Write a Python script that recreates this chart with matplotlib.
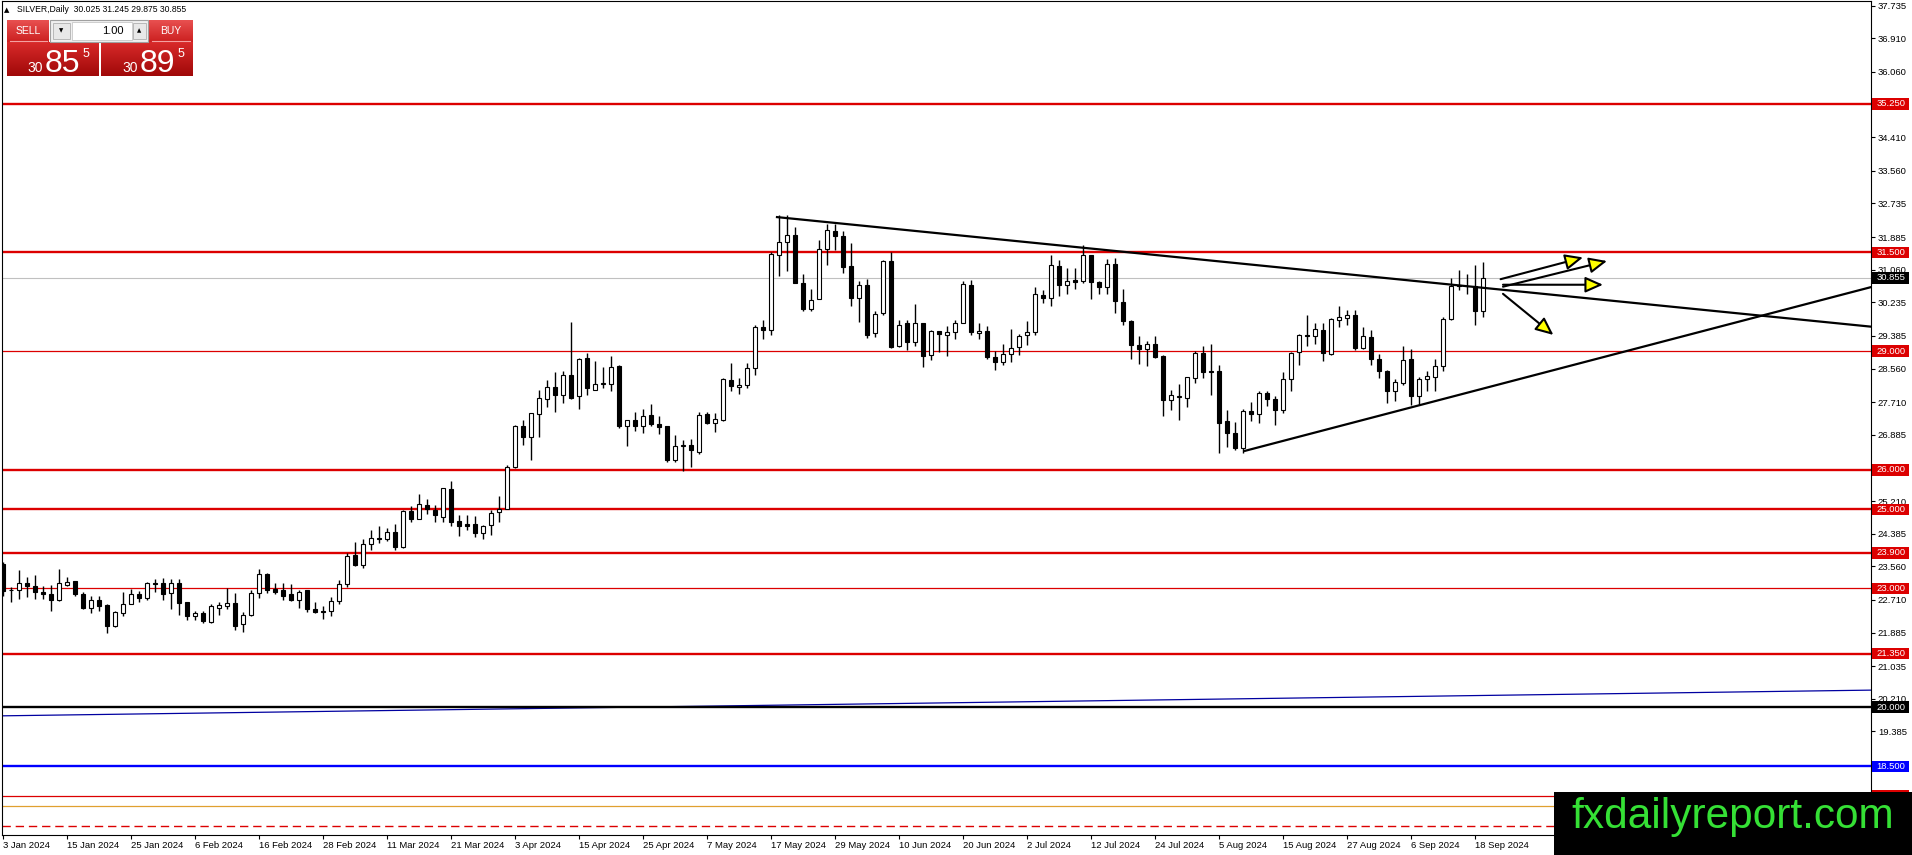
import numpy as np
import matplotlib
matplotlib.use('Agg')
import matplotlib.pyplot as plt
from matplotlib.patches import Rectangle, FancyArrowPatch
from matplotlib.transforms import blended_transform_factory
from matplotlib.colors import LinearSegmentedColormap

plt.rcParams['font.family'] = ['Liberation Sans', 'DejaVu Sans']

# daily OHLC, 3 Jan 2024 .. 19 Sep 2024
opens = [23.61, 22.96, 22.96, 23.13, 23.07, 22.92, 22.85, 22.71, 23.10, 23.18,
         22.87, 22.51, 22.70, 22.57, 22.06, 22.37, 22.62, 22.87, 22.76, 23.14,
         23.13, 22.89, 23.14, 22.66, 22.30, 22.38, 22.15, 22.51, 22.55, 22.64,
         22.09, 22.33, 22.89, 23.37, 22.99, 22.95, 22.85, 22.70, 22.95, 22.49,
         22.43, 22.43, 22.68, 23.12, 23.85, 23.60, 24.12, 24.27, 24.25, 24.43,
         24.06, 24.97, 24.75, 25.11, 24.99, 24.82, 25.52, 24.71, 24.63, 24.63,
         24.40, 24.60, 24.94, 25.02, 26.07, 27.12, 26.84, 27.41, 27.79, 28.09,
         27.88, 28.40, 27.87, 28.82, 28.02, 28.17, 28.17, 28.63, 27.11, 27.25,
         27.10, 27.38, 27.16, 27.10, 26.25, 26.59, 26.62, 26.46, 27.41, 27.18,
         27.27, 28.28, 28.10, 28.14, 28.58, 29.62, 29.53, 31.44, 31.76, 31.95,
         30.72, 30.07, 30.32, 31.58, 32.05, 31.92, 31.15, 30.35, 30.68, 29.46,
         29.97, 31.27, 29.14, 29.70, 29.22, 29.70, 28.90, 29.52, 29.40, 29.49,
         29.71, 30.68, 29.47, 29.52, 28.85, 28.72, 28.93, 29.11, 29.41, 29.48,
         30.43, 30.34, 31.16, 30.68, 30.79, 30.77, 31.42, 30.75, 30.62, 31.21,
         30.25, 29.77, 29.16, 29.06, 29.19, 28.87, 27.77, 27.83, 27.82, 28.32,
         28.95, 28.50, 28.51, 27.23, 26.93, 26.55, 27.49, 27.41, 27.93, 27.79,
         27.51, 28.30, 28.98, 29.42, 29.38, 29.54, 28.93, 29.80, 29.84, 29.92,
         29.08, 29.36, 28.80, 28.50, 27.99, 28.20, 28.79, 27.86, 28.30, 28.35,
         28.62, 29.81, 30.68, 30.66, 30.66, 30.025]
highs = [23.67, 23.04, 23.46, 23.29, 23.33, 23.06, 23.10, 23.50, 23.29, 23.20,
         22.91, 22.82, 22.81, 22.61, 22.43, 22.92, 22.99, 22.93, 23.16, 23.24,
         23.27, 23.23, 23.23, 22.67, 22.44, 22.43, 22.60, 22.65, 23.02, 22.89,
         22.40, 22.97, 23.48, 23.40, 23.14, 23.14, 23.12, 22.97, 22.95, 22.65,
         22.55, 22.78, 23.21, 23.90, 24.17, 24.25, 24.47, 24.58, 24.53, 24.63,
         24.99, 25.09, 25.39, 25.26, 25.11, 25.54, 25.73, 24.86, 24.86, 24.84,
         24.61, 24.99, 25.33, 26.13, 27.14, 27.26, 27.43, 28.02, 28.28, 28.47,
         28.49, 29.73, 28.84, 28.95, 28.76, 28.60, 28.88, 28.65, 27.26, 27.45,
         27.53, 27.67, 27.37, 27.11, 26.89, 26.76, 26.78, 27.45, 27.46, 27.44,
         28.31, 28.70, 28.32, 28.69, 29.67, 29.78, 31.52, 32.45, 32.45, 32.14,
         30.94, 30.56, 31.82, 32.22, 32.22, 32.03, 31.74, 30.77, 30.83, 30.01,
         31.30, 31.50, 29.78, 29.80, 30.20, 29.71, 29.54, 29.52, 29.63, 29.78,
         30.77, 30.81, 29.70, 29.63, 29.00, 29.19, 29.57, 29.44, 29.77, 30.62,
         30.54, 31.44, 31.31, 31.10, 31.10, 31.69, 31.42, 30.77, 31.33, 31.36,
         30.56, 29.78, 29.39, 29.25, 29.39, 28.91, 28.01, 28.16, 28.35, 29.00,
         29.12, 29.17, 28.66, 27.52, 27.20, 27.54, 27.71, 27.99, 28.00, 27.86,
         28.47, 28.97, 29.44, 29.92, 29.70, 29.71, 29.84, 30.15, 30.05, 30.05,
         29.61, 29.54, 28.94, 28.52, 28.30, 29.12, 29.06, 28.34, 28.49, 28.79,
         29.86, 30.85, 31.05, 30.94, 31.19, 31.245]
lows = [22.81, 22.65, 22.74, 22.78, 22.74, 22.74, 22.43, 22.68, 23.06, 22.81,
        22.47, 22.38, 22.43, 21.88, 22.03, 22.30, 22.60, 22.65, 22.72, 22.91,
        22.72, 22.47, 22.34, 22.20, 22.20, 22.12, 22.12, 22.33, 22.49, 21.95,
        21.90, 22.30, 22.76, 22.89, 22.87, 22.71, 22.68, 22.51, 22.40, 22.38,
        22.22, 22.30, 22.62, 23.05, 23.56, 23.51, 23.98, 24.16, 24.19, 23.98,
        24.02, 24.67, 24.75, 24.89, 24.67, 24.69, 24.58, 24.33, 24.48, 24.31,
        24.25, 24.36, 24.69, 25.01, 26.04, 26.63, 26.24, 26.82, 27.58, 27.47,
        27.70, 27.79, 27.54, 27.89, 28.02, 28.08, 28.00, 27.05, 26.61, 26.99,
        26.93, 27.11, 26.91, 26.19, 26.21, 25.96, 26.08, 26.40, 27.17, 26.95,
        27.23, 27.99, 27.92, 28.07, 28.41, 29.31, 29.42, 30.89, 31.02, 30.72,
        30.01, 30.01, 30.32, 31.19, 31.55, 30.98, 30.13, 29.73, 29.33, 29.36,
        29.92, 29.08, 29.11, 29.04, 29.12, 28.60, 28.77, 28.97, 28.87, 29.31,
        29.71, 29.42, 29.31, 28.80, 28.52, 28.64, 28.72, 28.91, 29.15, 29.42,
        30.22, 30.13, 30.39, 30.45, 30.57, 30.72, 30.32, 30.45, 30.45, 29.97,
        29.67, 28.80, 28.68, 28.62, 28.83, 27.37, 27.52, 27.25, 27.59, 28.20,
        28.32, 27.88, 26.43, 26.58, 26.51, 26.43, 27.23, 27.18, 27.61, 27.14,
        27.44, 27.99, 28.66, 29.14, 29.17, 28.74, 28.91, 29.61, 29.65, 29.02,
        29.06, 28.66, 28.32, 27.69, 27.73, 28.15, 27.65, 27.65, 27.99, 27.99,
        28.49, 29.80, 30.54, 30.45, 29.65, 29.875]
closes = [22.93, 22.95, 23.14, 23.06, 22.91, 22.86, 22.71, 23.14, 23.17, 22.85,
          22.51, 22.70, 22.55, 22.05, 22.41, 22.62, 22.87, 22.76, 23.14, 23.11,
          22.87, 23.14, 22.64, 22.30, 22.38, 22.17, 22.55, 22.58, 22.64, 22.05,
          22.33, 22.89, 23.37, 22.96, 22.92, 22.82, 22.71, 22.92, 22.49, 22.40,
          22.40, 22.68, 23.12, 23.83, 23.60, 24.12, 24.27, 24.25, 24.43, 24.06,
          24.97, 24.75, 25.14, 25.01, 24.85, 25.54, 24.67, 24.58, 24.58, 24.40,
          24.59, 24.90, 25.02, 26.07, 27.12, 26.84, 27.43, 27.81, 28.09, 27.88,
          28.40, 27.81, 28.80, 28.06, 28.17, 28.20, 28.61, 27.11, 27.25, 27.10,
          27.37, 27.15, 27.08, 26.24, 26.59, 26.62, 26.49, 27.38, 27.18, 27.29,
          28.30, 28.11, 28.15, 28.58, 29.61, 29.53, 31.46, 31.76, 31.95, 30.72,
          30.07, 30.30, 31.58, 32.07, 31.90, 31.13, 30.35, 30.68, 29.42, 29.95,
          31.29, 29.11, 29.66, 29.22, 29.70, 28.89, 29.52, 29.44, 29.49, 29.71,
          30.70, 29.48, 29.52, 28.85, 28.72, 28.94, 29.08, 29.39, 29.49, 30.45,
          30.34, 31.19, 30.68, 30.77, 30.75, 31.42, 30.74, 30.62, 31.21, 30.26,
          29.76, 29.15, 29.06, 29.18, 28.85, 27.77, 27.88, 27.86, 28.35, 28.95,
          28.47, 28.47, 27.18, 26.93, 26.55, 27.48, 27.41, 27.93, 27.79, 27.51,
          28.30, 28.95, 29.42, 29.38, 29.56, 28.95, 29.81, 29.86, 29.92, 29.08,
          29.38, 28.80, 28.49, 27.99, 28.22, 28.78, 27.86, 28.30, 28.36, 28.63,
          29.82, 30.66, 30.64, 30.66, 30.01, 30.855]

date_labels = ['3 Jan 2024', '15 Jan 2024', '25 Jan 2024', '6 Feb 2024', '16 Feb 2024',
               '28 Feb 2024', '11 Mar 2024', '21 Mar 2024', '3 Apr 2024', '15 Apr 2024',
               '25 Apr 2024', '7 May 2024', '17 May 2024', '29 May 2024', '10 Jun 2024',
               '20 Jun 2024', '2 Jul 2024', '12 Jul 2024', '24 Jul 2024', '5 Aug 2024',
               '15 Aug 2024', '27 Aug 2024', '6 Sep 2024', '18 Sep 2024']
date_step = 8

price_ticks = [37.735, 36.910, 36.060, 35.235, 34.410, 33.560, 32.735, 31.885, 31.060,
               30.235, 29.385, 28.560, 27.710, 26.885, 26.060, 25.210, 24.385, 23.560,
               22.710, 21.885, 21.035, 20.210, 19.385, 18.560]

red_thick = [35.25, 31.5, 26.0, 25.0, 23.9, 21.35]
red_thin = [29.0, 23.0]
hidden_red = 17.75   # its tag sits under the watermark box
black_level = 20.0
blue_level = 18.5
orange_level = 17.5
dashed_level = 17.0
last_price = 30.855

# drawn objects (bar index, price)
resistance = [(96.75, 32.39), (233.5, 29.62)]
support = [(155.25, 26.48), (233.5, 30.62)]
blue_trend = [(-0.125, 19.78), (233.5, 20.43)]
arrows = [((187.2, 30.82), (197.5, 31.37)),
          ((187.5, 30.63), (200.5, 31.28)),
          ((187.5, 30.68), (200.0, 30.68)),
          ((187.5, 30.45), (193.8, 29.41))]

W, H = 1912, 855
RED = '#dc0000'

fig = plt.figure(figsize=(W / 100, H / 100), dpi=100)
ax = fig.add_axes([2 / W, 20 / H, 1869 / W, 834 / H])

o = np.array(opens)
h = np.array(highs)
l = np.array(lows)
c = np.array(closes)
x = np.arange(len(c))
up = c >= o

# levels
for lv in red_thick:
    ax.axhline(lv, color=RED, lw=1.7, zorder=1)
for lv in red_thin + [hidden_red]:
    ax.axhline(lv, color=RED, lw=0.9, zorder=1)
ax.axhline(black_level, color='black', lw=1.7, zorder=1.2)
ax.axhline(blue_level, color='#0000ff', lw=1.7, zorder=1)
ax.axhline(orange_level, color='#e0a030', lw=0.9, zorder=1)
ax.axhline(dashed_level, color=RED, lw=1.0, dashes=(6, 3.5), zorder=1)
ax.axhline(last_price, color='#c0c0c0', lw=0.8, zorder=1)
ax.plot(*zip(*blue_trend), color='#0000a0', lw=0.9, zorder=1.1)

# candles
ax.vlines(x, l, h, color='black', lw=1.0, zorder=3)
ax.bar(x[up], (c - o)[up], bottom=o[up], width=0.62, facecolor='white',
       edgecolor='black', lw=0.8, zorder=4)
ax.bar(x[~up], (o - c)[~up], bottom=c[~up], width=0.62, facecolor='black',
       edgecolor='black', lw=0.8, zorder=4)

# trend lines and arrows
ax.plot(*zip(*resistance), color='black', lw=1.6, zorder=5)
ax.plot(*zip(*support), color='black', lw=1.6, zorder=5)
for start, end in arrows:
    ax.add_patch(FancyArrowPatch(start, end, arrowstyle='-|>,head_length=0.9,head_width=0.4',
                                 mutation_scale=12, facecolor='#ffff00', edgecolor='black',
                                 lw=1.5, zorder=6, shrinkA=0, shrinkB=0))

ax.set_xlim(-0.125, 233.5)
ax.set_ylim(16.767, 37.854)

ax.set_xticks(np.arange(len(date_labels)) * date_step, date_labels)
for lbl in ax.get_xticklabels():
    lbl.set_ha('left')
ax.tick_params(axis='x', direction='out', length=3, width=0.8, pad=1.5, labelsize=6.8)

ax.yaxis.set_ticks_position('right')
ax.set_yticks(price_ticks, [f'{v:.3f}' for v in price_ticks])
ax.tick_params(axis='y', direction='out', length=3, width=0.8, pad=2, labelsize=6.8)
for sp in ax.spines.values():
    sp.set_linewidth(0.8)

# price labels on the right scale
blend = blended_transform_factory(ax.transAxes, ax.transData)
box_w = 37 / 1869
box_h = 0.29
tags = [(v, RED) for v in red_thick + red_thin] + [(black_level, 'black'),
                                                   (blue_level, '#0000ff'),
                                                   (last_price, 'black')]
for v, col in tags:
    ax.add_patch(Rectangle((1.0006, v - box_h / 2), box_w, box_h, transform=blend,
                           facecolor=col, edgecolor='none', clip_on=False, zorder=7))
    ax.text(1.0006 + box_w / 2, v, f'{v:.3f}', transform=blend, ha='center', va='center',
            color='white', fontsize=6.8, clip_on=False, zorder=8)
ax.add_patch(Rectangle((1.0006, hidden_red - box_h / 2), box_w, box_h, transform=blend,
                       facecolor=RED, edgecolor='none', clip_on=False, zorder=7))

# overlay in pixel coordinates: header, trade panel, watermark
ov = fig.add_axes([0, 0, 1, 1], zorder=10)
ov.patch.set_alpha(0)
ov.axis('off')


def grad_box(x0, y0, x1, y1, top, bottom):
    cmap = LinearSegmentedColormap.from_list('g', [top, bottom])
    ov.imshow(np.linspace(0, 1, 40).reshape(-1, 1), cmap=cmap, aspect='auto',
              extent=(x0, x1, y1, y0), zorder=2, interpolation='bilinear')


ov.text(7, 10, '\u25b2', fontsize=5, ha='center', va='center', family='DejaVu Sans')
ov.text(17, 10, 'SILVER,Daily  30.025 31.245 29.875 30.855', fontsize=6.2, va='center')

grad_box(7, 20, 49, 42, '#e85050', '#cc2020')
grad_box(149, 20, 193, 42, '#e85050', '#cc2020')
grad_box(7, 42, 99, 76, '#d82a2a', '#a00808')
grad_box(101, 42, 193, 76, '#d82a2a', '#a00808')
ov.plot([10, 47], [41, 41], color='#f4a0a0', lw=0.8, zorder=3)
ov.plot([152, 190], [41, 41], color='#f4a0a0', lw=0.8, zorder=3)
ov.add_patch(Rectangle((50, 20), 98, 22, facecolor='#f0f0f0', edgecolor='#a0a0a0', lw=0.8, zorder=2))
ov.add_patch(Rectangle((53, 23), 17, 16, facecolor='#e8e8e8', edgecolor='#b0b0b0', lw=0.6, zorder=3))
ov.add_patch(Rectangle((72, 22), 60, 18, facecolor='white', edgecolor='#c8c8c8', lw=0.6, zorder=3))
ov.add_patch(Rectangle((133, 23), 13, 16, facecolor='#e8e8e8', edgecolor='#b0b0b0', lw=0.6, zorder=3))
ov.text(61.5, 31, '\u25bc', fontsize=4, ha='center', va='center', family='DejaVu Sans', zorder=4)
ov.text(139.5, 31, '\u25b2', fontsize=4, ha='center', va='center', family='DejaVu Sans', zorder=4)
ov.text(124, 31, '1.00', fontsize=8, ha='right', va='center', zorder=4)
ov.text(28, 31, 'SELL', fontsize=7.5, color='white', ha='center', va='center', zorder=4)
ov.text(171, 31, 'BUY', fontsize=7.5, color='white', ha='center', va='center', zorder=4)
for x0, big in [(27, '85'), (122, '89')]:
    ov.text(x0, 72, '30', fontsize=10, color='white', ha='left', va='baseline', zorder=4)
    ov.text(x0 + 18, 72, big, fontsize=23, color='white', ha='left', va='baseline', zorder=4)
    ov.text(x0 + 56, 57, '5', fontsize=9, color='white', ha='left', va='baseline', zorder=4)

ov.add_patch(Rectangle((1554, 792), W - 1554, H - 792, facecolor='black', edgecolor='none', zorder=5))
ov.text(1733, 828, 'fxdailyreport.com', fontsize=30.5, color='#35e035', ha='center',
        va='baseline', zorder=6)

ov.set_xlim(0, W)
ov.set_ylim(H, 0)

fig.savefig('out.png', dpi=100)
